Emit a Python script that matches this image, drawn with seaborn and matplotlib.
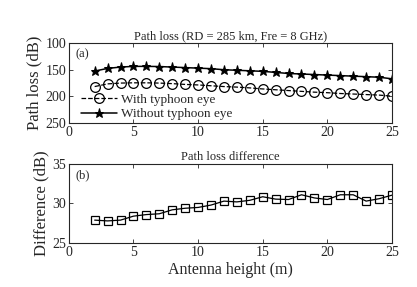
import numpy as np
import pandas as pd
import seaborn as sns
import matplotlib.pyplot as plt

# datos
altura = [2, 3, 4, 5, 6, 7, 8, 9, 10, 11, 12, 13, 14, 15, 16, 17, 18, 19, 20, 21, 22, 23, 24, 25]
sin_ojo = [152.5, 147.5, 145, 143.7, 143.7, 144, 145, 146, 147, 148, 150, 151,
           152, 153, 155, 157, 158, 159, 160, 161, 162, 163, 164, 167]
con_ojo = [181.5, 176.5, 175, 174.5, 174.5, 175, 176, 177.5, 178.5, 180, 181.5, 182.5,
           184, 186, 187.5, 189, 190.5, 192, 193, 194.5, 195.5, 196.5, 197.5, 199.5]
diferencia = [27.9, 27.8, 27.9, 28.4, 28.6, 28.7, 29.2, 29.4, 29.5, 29.8, 30.3, 30.2,
              30.4, 30.85, 30.55, 30.5, 31.1, 30.7, 30.5, 31.1, 31.1, 30.3, 30.6, 31.05]

sns.set_style('ticks')
plt.rcParams['font.family'] = ['Liberation Serif', 'DejaVu Serif']
plt.rcParams['xtick.direction'] = 'in'
plt.rcParams['ytick.direction'] = 'in'

fig = plt.figure(figsize=(4.17, 2.87), dpi=100)
ax1 = fig.add_axes([0.165, 0.571, 0.775, 0.279])
ax2 = fig.add_axes([0.165, 0.153, 0.775, 0.276])

df = pd.DataFrame({'h': altura, 'con': con_ojo, 'sin': sin_ojo, 'dif': diferencia})

sns.lineplot(data=df, x='h', y='con', ax=ax1, color='black', lw=0.9, linestyle='--',
             marker='o', markersize=7, markerfacecolor='none', markeredgecolor='black',
             markeredgewidth=0.9, label='With typhoon eye')
sns.lineplot(data=df, x='h', y='sin', ax=ax1, color='black', lw=1.1,
             marker='*', markersize=6.5, markeredgecolor='black', label='Without typhoon eye')
ax1.set_xlim(0, 25)
ax1.set_ylim(250, 100)
ax1.set_yticks([100, 150, 200, 250])
ax1.set_xticks([0, 5, 10, 15, 20, 25])
ax1.set_xlabel('')
ax1.set_ylabel('Path loss (dB)', fontsize=12, labelpad=2)
ax1.set_title('Path loss (RD = 285 km, Fre = 8 GHz)', fontsize=9, pad=3)
ax1.text(0.02, 0.93, '(a)', transform=ax1.transAxes, fontsize=9, va='top')
ax1.legend(loc='lower left', frameon=False, fontsize=9.5, handlelength=2.8,
           borderaxespad=0.0, labelspacing=0.15, handletextpad=0.3,
           bbox_to_anchor=(0.02, -0.03))

sns.lineplot(data=df, x='h', y='dif', ax=ax2, color='black', lw=0.9,
             marker='s', markersize=6, markerfacecolor='none', markeredgecolor='black',
             markeredgewidth=0.9)
ax2.set_xlim(0, 25)
ax2.set_ylim(25, 35)
ax2.set_yticks([25, 30, 35])
ax2.set_xticks([0, 5, 10, 15, 20, 25])
ax2.set_xlabel('Antenna height (m)', fontsize=11.5, labelpad=2)
ax2.set_ylabel('Difference (dB)', fontsize=12, labelpad=2)
ax2.set_title('Path loss difference', fontsize=9, pad=3)
ax2.text(0.02, 0.93, '(b)', transform=ax2.transAxes, fontsize=9, va='top')

for ax in (ax1, ax2):
    ax.tick_params(labelsize=10, length=3, width=0.6, pad=2, top=True, right=True)
    for s in ax.spines.values():
        s.set_linewidth(0.8)

fig.savefig('out.png', dpi=100)
